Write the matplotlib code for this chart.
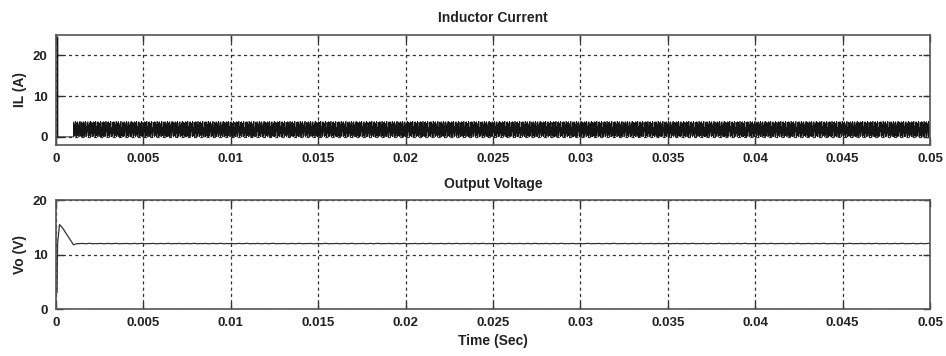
import numpy as np
import matplotlib
matplotlib.use("Agg")
import matplotlib.pyplot as plt

plt.rcParams['font.family'] = ['Liberation Sans Narrow', 'Liberation Sans', 'DejaVu Sans']
plt.rcParams['font.weight'] = 'bold'

# ---- data ----
# inductor current: start-up spike, then zero until the converter starts switching
il_start_t = [0.0, 0.00007, 0.00007, 0.00011, 0.00011, 0.001]
il_start_v = [0.0, 0.0, 24.5, 24.5, 0.0, 0.0]
# switching part: one cycle pattern (peaks/valleys in A), repeated every period
sw_start = 0.001
sw_end = 0.05
sw_period = 4.5e-5
il_peaks = [3.6, 3.1, 3.8, 2.6, 3.5, 3.7, 2.9, 3.4, 3.8, 2.2, 3.6, 3.3, 3.7]
il_valleys = [0.0, 0.4, 0.1, 0.9, 0.0, 0.3, 1.2, 0.0, 0.5, 0.2, 0.0, 0.8]

# output voltage: start-up transient then steady ~12 V with small ripple
vo_start_t = [0.0, 0.00006, 0.00009, 0.0002, 0.00035, 0.001, 0.0012]
vo_start_v = [3.0, 3.0, 12.0, 15.5, 15.0, 11.8, 12.0]
vo_step = 1.5e-4
vo_ripple = [12.0, 12.05, 11.98, 12.03, 12.06, 11.97, 12.02, 12.0, 12.05, 11.98]

xticks = [0, 0.005, 0.01, 0.015, 0.02, 0.025, 0.03, 0.035, 0.04, 0.045, 0.05]
xticklabels = ['0', '0.005', '0.01', '0.015', '0.02', '0.025', '0.03',
               '0.035', '0.04', '0.045', '0.05']

# build the switching waveform from the cycle pattern
n_cyc = int(round((sw_end - sw_start) / sw_period))
sw_t, sw_v = [], []
for k in range(n_cyc):
    t0 = sw_start + k * sw_period
    sw_t += [t0, t0 + 0.3 * sw_period]
    sw_v += [il_valleys[k % len(il_valleys)], il_peaks[k % len(il_peaks)]]
il_t = il_start_t + sw_t
il_v = il_start_v + sw_v

n_rip = int(round((0.05 - 0.0012) / vo_step))
vo_t = vo_start_t + [0.0012 + (k + 1) * vo_step for k in range(n_rip)]
vo_v = vo_start_v + [vo_ripple[k % len(vo_ripple)] for k in range(n_rip)]

fig = plt.figure(figsize=(9.46, 3.56), dpi=100)
ax1 = fig.add_axes([0.0592, 0.5927, 0.9239, 0.309])
ax2 = fig.add_axes([0.0592, 0.132, 0.9239, 0.306])

ax1.plot(il_t, il_v, color='#151515', lw=0.6)
ax2.plot(vo_t, vo_v, color='#333333', lw=0.9)

def style(ax, ylim, yticks, ylabel, title):
    ax.set_xlim(0, 0.05)
    ax.set_ylim(*ylim)
    ax.set_xticks(xticks)
    ax.set_xticklabels(xticklabels)
    ax.set_yticks(yticks)
    ax.grid(True, color='#333333', linestyle=(0, (2.5, 2.5)), linewidth=0.9)
    ax.tick_params(direction='in', length=5, width=1, labelsize=9.5,
                   colors='#333333', labelcolor='#222222', pad=6,
                   top=True, right=True)
    for s in ax.spines.values():
        s.set_color('#555555')
        s.set_linewidth(1.2)
    ax.set_ylabel(ylabel, fontsize=10, fontweight='bold', color='#222222', labelpad=4)
    ax.set_title(title, fontsize=10, fontweight='bold', color='#222222', pad=9)

style(ax1, (-2, 25), [0, 10, 20], 'IL (A)', 'Inductor Current')
style(ax2, (0, 20), [0, 10, 20], 'Vo (V)', 'Output Voltage')
ax2.set_xlabel('Time (Sec)', fontsize=10, fontweight='bold', color='#222222', labelpad=3)

fig.savefig('out.png', dpi=100)
